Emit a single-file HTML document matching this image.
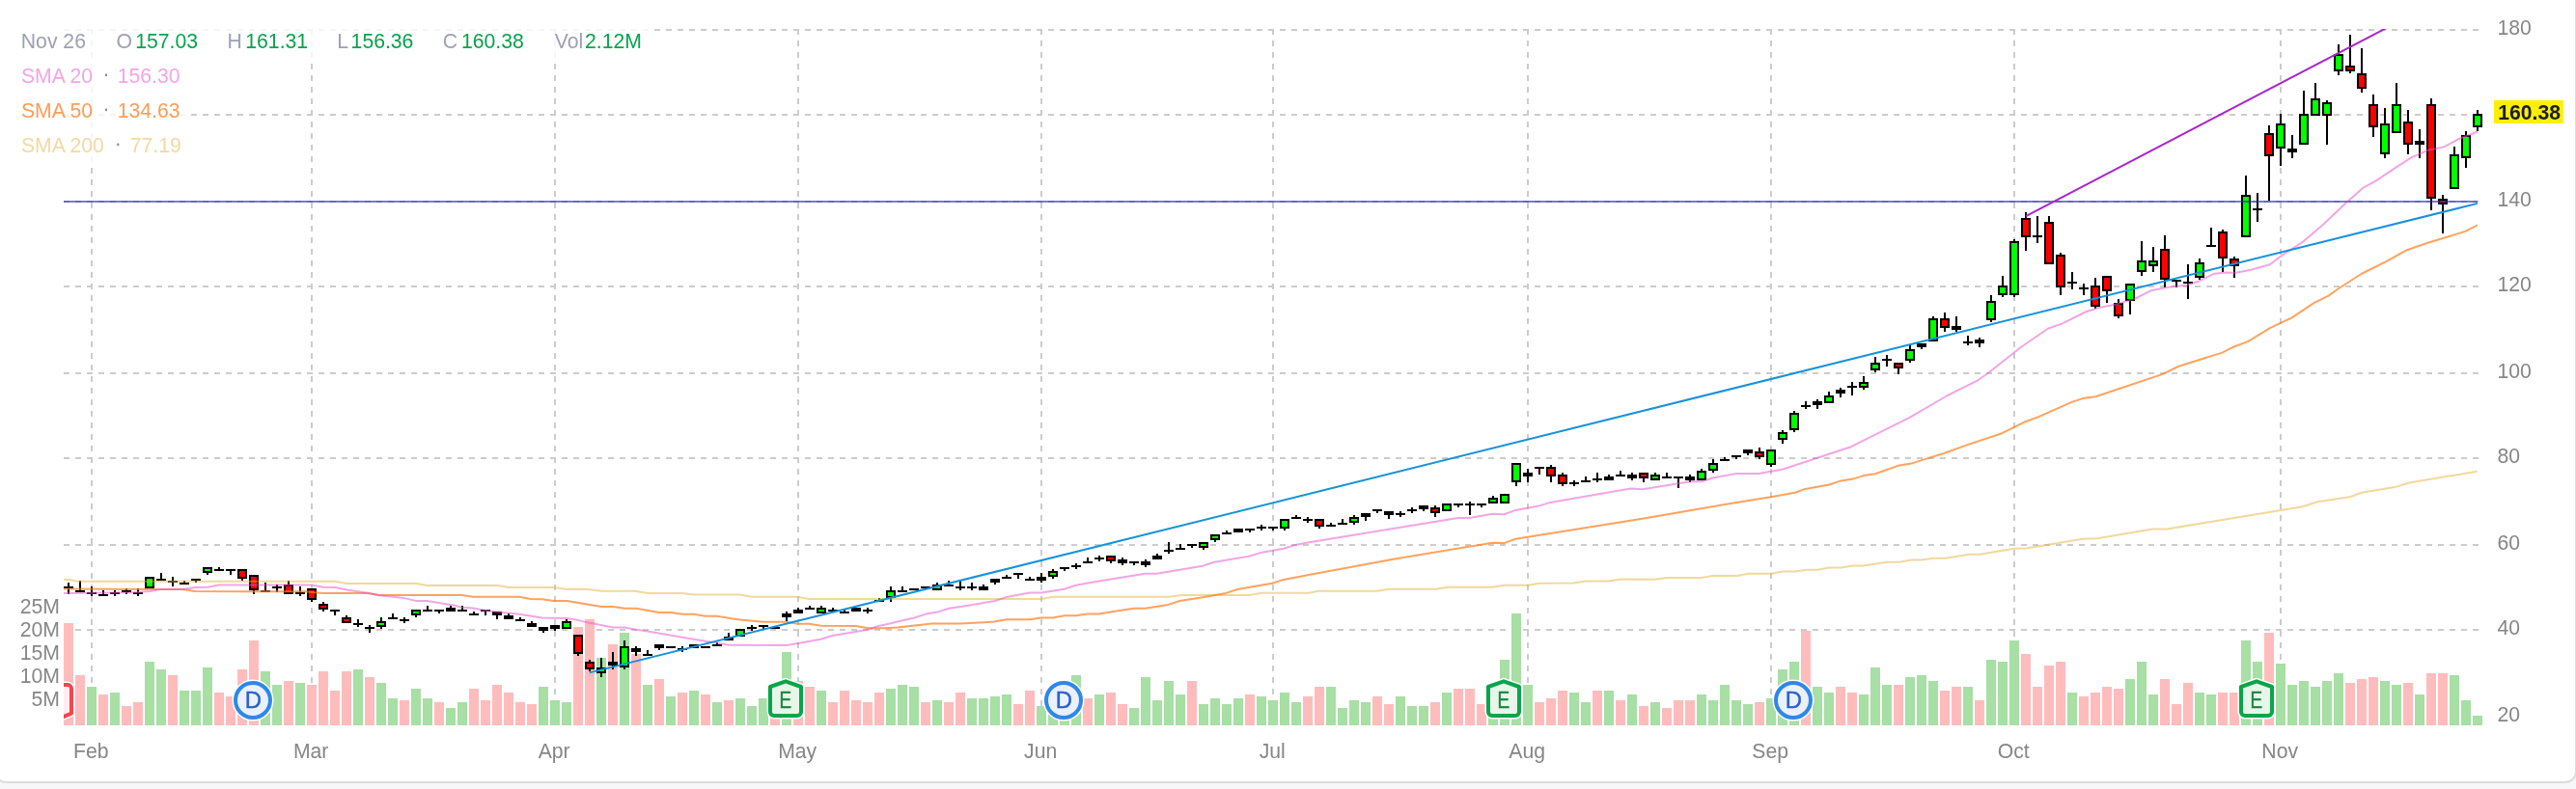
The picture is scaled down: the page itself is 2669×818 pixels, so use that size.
<!DOCTYPE html><html><head><meta charset="utf-8"><title>Chart</title><style>
html,body{margin:0;padding:0;background:#f7f7fa;}body{width:2669px;height:818px;overflow:hidden;position:relative;font-family:"Liberation Sans",Arial,sans-serif;}
#card{position:absolute;left:-6px;top:-20px;width:2672px;height:828px;background:#fff;border:2px solid #dbdbe3;border-radius:12px;}
svg{position:absolute;left:0;top:0;will-change:transform;}
svg text{font-family:"Liberation Sans",Arial,sans-serif;}
.ax{font-size:21.2px;fill:#868686;}
.lg{font-size:21.2px;}
</style></head><body><div id="card"></div>
<svg width="2669" height="818" viewBox="0 0 2669 818">
<defs><clipPath id="plot"><rect x="66" y="30" width="2508" height="722"/></clipPath></defs>
<g stroke="#cccccc" stroke-width="2" stroke-dasharray="6 6" fill="none">
<path d="M66 31 H2568"/>
<path d="M66 119 H2568"/>
<path d="M66 209 H2568"/>
<path d="M66 297 H2568"/>
<path d="M66 387 H2568"/>
<path d="M66 475 H2568"/>
<path d="M66 565 H2568"/>
<path d="M66 653 H2568"/>
<path d="M95 30 V752"/>
<path d="M323 30 V752"/>
<path d="M575 30 V752"/>
<path d="M827 30 V752"/>
<path d="M1079 30 V752"/>
<path d="M1319 30 V752"/>
<path d="M1583 30 V752"/>
<path d="M1835 30 V752"/>
<path d="M2087 30 V752"/>
<path d="M2363 30 V752"/>
</g>
<g>
<rect x="66" y="646" width="10" height="106" fill="#ffbcbc"/>
<rect x="78" y="700" width="10" height="52" fill="#ffbcbc"/>
<rect x="90" y="712" width="10" height="40" fill="#a7dfa5"/>
<rect x="102" y="720" width="10" height="32" fill="#ffbcbc"/>
<rect x="114" y="718" width="10" height="34" fill="#a7dfa5"/>
<rect x="126" y="732" width="10" height="20" fill="#ffbcbc"/>
<rect x="138" y="728" width="10" height="24" fill="#ffbcbc"/>
<rect x="150" y="686" width="10" height="66" fill="#a7dfa5"/>
<rect x="162" y="694" width="10" height="58" fill="#a7dfa5"/>
<rect x="174" y="700" width="10" height="52" fill="#ffbcbc"/>
<rect x="186" y="716" width="10" height="36" fill="#a7dfa5"/>
<rect x="198" y="716" width="10" height="36" fill="#a7dfa5"/>
<rect x="210" y="692" width="10" height="60" fill="#a7dfa5"/>
<rect x="222" y="718" width="10" height="34" fill="#ffbcbc"/>
<rect x="234" y="722" width="10" height="30" fill="#ffbcbc"/>
<rect x="246" y="694" width="10" height="58" fill="#ffbcbc"/>
<rect x="258" y="664" width="10" height="88" fill="#ffbcbc"/>
<rect x="270" y="696" width="10" height="56" fill="#a7dfa5"/>
<rect x="282" y="710" width="10" height="42" fill="#a7dfa5"/>
<rect x="294" y="706" width="10" height="46" fill="#ffbcbc"/>
<rect x="306" y="708" width="10" height="44" fill="#a7dfa5"/>
<rect x="318" y="710" width="10" height="42" fill="#ffbcbc"/>
<rect x="330" y="696" width="10" height="56" fill="#ffbcbc"/>
<rect x="342" y="716" width="10" height="36" fill="#ffbcbc"/>
<rect x="354" y="696" width="10" height="56" fill="#ffbcbc"/>
<rect x="366" y="694" width="10" height="58" fill="#a7dfa5"/>
<rect x="378" y="702" width="10" height="50" fill="#ffbcbc"/>
<rect x="390" y="708" width="10" height="44" fill="#a7dfa5"/>
<rect x="402" y="724" width="10" height="28" fill="#a7dfa5"/>
<rect x="414" y="726" width="10" height="26" fill="#ffbcbc"/>
<rect x="426" y="714" width="10" height="38" fill="#a7dfa5"/>
<rect x="438" y="724" width="10" height="28" fill="#a7dfa5"/>
<rect x="450" y="728" width="10" height="24" fill="#ffbcbc"/>
<rect x="462" y="734" width="10" height="18" fill="#a7dfa5"/>
<rect x="474" y="728" width="10" height="24" fill="#a7dfa5"/>
<rect x="486" y="714" width="10" height="38" fill="#ffbcbc"/>
<rect x="498" y="726" width="10" height="26" fill="#ffbcbc"/>
<rect x="510" y="710" width="10" height="42" fill="#ffbcbc"/>
<rect x="522" y="718" width="10" height="34" fill="#ffbcbc"/>
<rect x="534" y="728" width="10" height="24" fill="#ffbcbc"/>
<rect x="546" y="730" width="10" height="22" fill="#ffbcbc"/>
<rect x="558" y="712" width="10" height="40" fill="#a7dfa5"/>
<rect x="570" y="726" width="10" height="26" fill="#a7dfa5"/>
<rect x="582" y="728" width="10" height="24" fill="#a7dfa5"/>
<rect x="594" y="650" width="10" height="102" fill="#ffbcbc"/>
<rect x="606" y="642" width="10" height="110" fill="#ffbcbc"/>
<rect x="618" y="682" width="10" height="70" fill="#a7dfa5"/>
<rect x="630" y="668" width="10" height="84" fill="#ffbcbc"/>
<rect x="642" y="656" width="10" height="96" fill="#a7dfa5"/>
<rect x="654" y="678" width="10" height="74" fill="#ffbcbc"/>
<rect x="666" y="710" width="10" height="42" fill="#a7dfa5"/>
<rect x="678" y="704" width="10" height="48" fill="#ffbcbc"/>
<rect x="690" y="722" width="10" height="30" fill="#a7dfa5"/>
<rect x="702" y="718" width="10" height="34" fill="#ffbcbc"/>
<rect x="714" y="716" width="10" height="36" fill="#a7dfa5"/>
<rect x="726" y="720" width="10" height="32" fill="#ffbcbc"/>
<rect x="738" y="728" width="10" height="24" fill="#a7dfa5"/>
<rect x="750" y="726" width="10" height="26" fill="#ffbcbc"/>
<rect x="762" y="724" width="10" height="28" fill="#a7dfa5"/>
<rect x="774" y="732" width="10" height="20" fill="#a7dfa5"/>
<rect x="786" y="724" width="10" height="28" fill="#a7dfa5"/>
<rect x="798" y="728" width="10" height="24" fill="#ffbcbc"/>
<rect x="810" y="676" width="10" height="76" fill="#a7dfa5"/>
<rect x="822" y="706" width="10" height="46" fill="#ffbcbc"/>
<rect x="834" y="712" width="10" height="40" fill="#ffbcbc"/>
<rect x="846" y="716" width="10" height="36" fill="#a7dfa5"/>
<rect x="858" y="728" width="10" height="24" fill="#ffbcbc"/>
<rect x="870" y="716" width="10" height="36" fill="#ffbcbc"/>
<rect x="882" y="726" width="10" height="26" fill="#ffbcbc"/>
<rect x="894" y="728" width="10" height="24" fill="#ffbcbc"/>
<rect x="906" y="718" width="10" height="34" fill="#ffbcbc"/>
<rect x="918" y="714" width="10" height="38" fill="#a7dfa5"/>
<rect x="930" y="710" width="10" height="42" fill="#a7dfa5"/>
<rect x="942" y="712" width="10" height="40" fill="#a7dfa5"/>
<rect x="954" y="728" width="10" height="24" fill="#ffbcbc"/>
<rect x="966" y="726" width="10" height="26" fill="#a7dfa5"/>
<rect x="978" y="728" width="10" height="24" fill="#ffbcbc"/>
<rect x="990" y="718" width="10" height="34" fill="#ffbcbc"/>
<rect x="1002" y="724" width="10" height="28" fill="#a7dfa5"/>
<rect x="1014" y="724" width="10" height="28" fill="#a7dfa5"/>
<rect x="1026" y="722" width="10" height="30" fill="#a7dfa5"/>
<rect x="1038" y="720" width="10" height="32" fill="#a7dfa5"/>
<rect x="1050" y="730" width="10" height="22" fill="#ffbcbc"/>
<rect x="1062" y="716" width="10" height="36" fill="#ffbcbc"/>
<rect x="1074" y="732" width="10" height="20" fill="#a7dfa5"/>
<rect x="1086" y="724" width="10" height="28" fill="#a7dfa5"/>
<rect x="1098" y="722" width="10" height="30" fill="#a7dfa5"/>
<rect x="1110" y="700" width="10" height="52" fill="#a7dfa5"/>
<rect x="1122" y="724" width="10" height="28" fill="#ffbcbc"/>
<rect x="1134" y="720" width="10" height="32" fill="#a7dfa5"/>
<rect x="1146" y="718" width="10" height="34" fill="#ffbcbc"/>
<rect x="1158" y="730" width="10" height="22" fill="#ffbcbc"/>
<rect x="1170" y="734" width="10" height="18" fill="#a7dfa5"/>
<rect x="1182" y="702" width="10" height="50" fill="#a7dfa5"/>
<rect x="1194" y="726" width="10" height="26" fill="#a7dfa5"/>
<rect x="1206" y="706" width="10" height="46" fill="#a7dfa5"/>
<rect x="1218" y="720" width="10" height="32" fill="#a7dfa5"/>
<rect x="1230" y="706" width="10" height="46" fill="#ffbcbc"/>
<rect x="1242" y="730" width="10" height="22" fill="#a7dfa5"/>
<rect x="1254" y="724" width="10" height="28" fill="#a7dfa5"/>
<rect x="1266" y="730" width="10" height="22" fill="#a7dfa5"/>
<rect x="1278" y="724" width="10" height="28" fill="#a7dfa5"/>
<rect x="1290" y="720" width="10" height="32" fill="#ffbcbc"/>
<rect x="1302" y="722" width="10" height="30" fill="#a7dfa5"/>
<rect x="1314" y="726" width="10" height="26" fill="#a7dfa5"/>
<rect x="1326" y="718" width="10" height="34" fill="#a7dfa5"/>
<rect x="1338" y="728" width="10" height="24" fill="#a7dfa5"/>
<rect x="1350" y="722" width="10" height="30" fill="#ffbcbc"/>
<rect x="1362" y="712" width="10" height="40" fill="#ffbcbc"/>
<rect x="1374" y="712" width="10" height="40" fill="#a7dfa5"/>
<rect x="1386" y="734" width="10" height="18" fill="#a7dfa5"/>
<rect x="1398" y="726" width="10" height="26" fill="#a7dfa5"/>
<rect x="1410" y="728" width="10" height="24" fill="#a7dfa5"/>
<rect x="1422" y="722" width="10" height="30" fill="#ffbcbc"/>
<rect x="1434" y="730" width="10" height="22" fill="#ffbcbc"/>
<rect x="1446" y="722" width="10" height="30" fill="#a7dfa5"/>
<rect x="1458" y="732" width="10" height="20" fill="#a7dfa5"/>
<rect x="1470" y="732" width="10" height="20" fill="#a7dfa5"/>
<rect x="1482" y="728" width="10" height="24" fill="#ffbcbc"/>
<rect x="1494" y="718" width="10" height="34" fill="#a7dfa5"/>
<rect x="1506" y="714" width="10" height="38" fill="#ffbcbc"/>
<rect x="1518" y="714" width="10" height="38" fill="#ffbcbc"/>
<rect x="1530" y="730" width="10" height="22" fill="#ffbcbc"/>
<rect x="1542" y="728" width="10" height="24" fill="#a7dfa5"/>
<rect x="1554" y="684" width="10" height="68" fill="#a7dfa5"/>
<rect x="1566" y="636" width="10" height="116" fill="#a7dfa5"/>
<rect x="1578" y="710" width="10" height="42" fill="#a7dfa5"/>
<rect x="1590" y="728" width="10" height="24" fill="#ffbcbc"/>
<rect x="1602" y="724" width="10" height="28" fill="#ffbcbc"/>
<rect x="1614" y="716" width="10" height="36" fill="#ffbcbc"/>
<rect x="1626" y="718" width="10" height="34" fill="#a7dfa5"/>
<rect x="1638" y="728" width="10" height="24" fill="#a7dfa5"/>
<rect x="1650" y="716" width="10" height="36" fill="#ffbcbc"/>
<rect x="1662" y="716" width="10" height="36" fill="#a7dfa5"/>
<rect x="1674" y="726" width="10" height="26" fill="#ffbcbc"/>
<rect x="1686" y="720" width="10" height="32" fill="#a7dfa5"/>
<rect x="1698" y="732" width="10" height="20" fill="#ffbcbc"/>
<rect x="1710" y="728" width="10" height="24" fill="#a7dfa5"/>
<rect x="1722" y="734" width="10" height="18" fill="#ffbcbc"/>
<rect x="1734" y="726" width="10" height="26" fill="#ffbcbc"/>
<rect x="1746" y="726" width="10" height="26" fill="#ffbcbc"/>
<rect x="1758" y="720" width="10" height="32" fill="#a7dfa5"/>
<rect x="1770" y="726" width="10" height="26" fill="#a7dfa5"/>
<rect x="1782" y="710" width="10" height="42" fill="#a7dfa5"/>
<rect x="1794" y="726" width="10" height="26" fill="#a7dfa5"/>
<rect x="1806" y="730" width="10" height="22" fill="#a7dfa5"/>
<rect x="1818" y="728" width="10" height="24" fill="#ffbcbc"/>
<rect x="1830" y="724" width="10" height="28" fill="#a7dfa5"/>
<rect x="1842" y="694" width="10" height="58" fill="#a7dfa5"/>
<rect x="1854" y="686" width="10" height="66" fill="#a7dfa5"/>
<rect x="1866" y="654" width="10" height="98" fill="#ffbcbc"/>
<rect x="1878" y="712" width="10" height="40" fill="#a7dfa5"/>
<rect x="1890" y="718" width="10" height="34" fill="#a7dfa5"/>
<rect x="1902" y="712" width="10" height="40" fill="#ffbcbc"/>
<rect x="1914" y="718" width="10" height="34" fill="#ffbcbc"/>
<rect x="1926" y="720" width="10" height="32" fill="#a7dfa5"/>
<rect x="1938" y="692" width="10" height="60" fill="#a7dfa5"/>
<rect x="1950" y="710" width="10" height="42" fill="#a7dfa5"/>
<rect x="1962" y="710" width="10" height="42" fill="#ffbcbc"/>
<rect x="1974" y="702" width="10" height="50" fill="#a7dfa5"/>
<rect x="1986" y="700" width="10" height="52" fill="#a7dfa5"/>
<rect x="1998" y="706" width="10" height="46" fill="#a7dfa5"/>
<rect x="2010" y="716" width="10" height="36" fill="#ffbcbc"/>
<rect x="2022" y="712" width="10" height="40" fill="#ffbcbc"/>
<rect x="2034" y="712" width="10" height="40" fill="#a7dfa5"/>
<rect x="2046" y="726" width="10" height="26" fill="#ffbcbc"/>
<rect x="2058" y="684" width="10" height="68" fill="#a7dfa5"/>
<rect x="2070" y="686" width="10" height="66" fill="#a7dfa5"/>
<rect x="2082" y="664" width="10" height="88" fill="#a7dfa5"/>
<rect x="2094" y="678" width="10" height="74" fill="#ffbcbc"/>
<rect x="2106" y="712" width="10" height="40" fill="#ffbcbc"/>
<rect x="2118" y="690" width="10" height="62" fill="#ffbcbc"/>
<rect x="2130" y="686" width="10" height="66" fill="#ffbcbc"/>
<rect x="2142" y="718" width="10" height="34" fill="#a7dfa5"/>
<rect x="2154" y="722" width="10" height="30" fill="#ffbcbc"/>
<rect x="2166" y="718" width="10" height="34" fill="#ffbcbc"/>
<rect x="2178" y="712" width="10" height="40" fill="#ffbcbc"/>
<rect x="2190" y="714" width="10" height="38" fill="#ffbcbc"/>
<rect x="2202" y="704" width="10" height="48" fill="#a7dfa5"/>
<rect x="2214" y="686" width="10" height="66" fill="#a7dfa5"/>
<rect x="2226" y="720" width="10" height="32" fill="#a7dfa5"/>
<rect x="2238" y="704" width="10" height="48" fill="#ffbcbc"/>
<rect x="2250" y="730" width="10" height="22" fill="#ffbcbc"/>
<rect x="2262" y="708" width="10" height="44" fill="#ffbcbc"/>
<rect x="2274" y="718" width="10" height="34" fill="#a7dfa5"/>
<rect x="2286" y="720" width="10" height="32" fill="#a7dfa5"/>
<rect x="2298" y="718" width="10" height="34" fill="#ffbcbc"/>
<rect x="2310" y="718" width="10" height="34" fill="#ffbcbc"/>
<rect x="2322" y="664" width="10" height="88" fill="#a7dfa5"/>
<rect x="2334" y="686" width="10" height="66" fill="#a7dfa5"/>
<rect x="2346" y="656" width="10" height="96" fill="#ffbcbc"/>
<rect x="2358" y="688" width="10" height="64" fill="#a7dfa5"/>
<rect x="2370" y="710" width="10" height="42" fill="#a7dfa5"/>
<rect x="2382" y="706" width="10" height="46" fill="#a7dfa5"/>
<rect x="2394" y="712" width="10" height="40" fill="#a7dfa5"/>
<rect x="2406" y="706" width="10" height="46" fill="#a7dfa5"/>
<rect x="2418" y="698" width="10" height="54" fill="#a7dfa5"/>
<rect x="2430" y="708" width="10" height="44" fill="#ffbcbc"/>
<rect x="2442" y="704" width="10" height="48" fill="#ffbcbc"/>
<rect x="2454" y="702" width="10" height="50" fill="#ffbcbc"/>
<rect x="2466" y="706" width="10" height="46" fill="#a7dfa5"/>
<rect x="2478" y="710" width="10" height="42" fill="#a7dfa5"/>
<rect x="2490" y="708" width="10" height="44" fill="#ffbcbc"/>
<rect x="2502" y="720" width="10" height="32" fill="#a7dfa5"/>
<rect x="2514" y="698" width="10" height="54" fill="#ffbcbc"/>
<rect x="2526" y="698" width="10" height="54" fill="#ffbcbc"/>
<rect x="2538" y="700" width="10" height="52" fill="#a7dfa5"/>
<rect x="2550" y="726" width="10" height="26" fill="#a7dfa5"/>
<rect x="2562" y="742" width="10" height="10" fill="#a7dfa5"/>
</g>
<g fill="#000" shape-rendering="crispEdges">
<rect x="70" y="604" width="2" height="12"/>
<rect x="66" y="608" width="10" height="2"/>
<rect x="82" y="602" width="2" height="12"/>
<rect x="78" y="612" width="10" height="2"/>
<rect x="94" y="608" width="2" height="10"/>
<rect x="90" y="614" width="10" height="2"/>
<rect x="106" y="612" width="2" height="6"/>
<rect x="102" y="616" width="10" height="2"/>
<rect x="118" y="612" width="2" height="6"/>
<rect x="114" y="614" width="10" height="2"/>
<rect x="130" y="610" width="2" height="6"/>
<rect x="126" y="612" width="10" height="2"/>
<rect x="142" y="610" width="2" height="8"/>
<rect x="138" y="614" width="10" height="2"/>
<rect x="150" y="598" width="10" height="12"/>
<rect x="166" y="594" width="2" height="8"/>
<rect x="162" y="600" width="10" height="2"/>
<rect x="178" y="598" width="2" height="10"/>
<rect x="174" y="602" width="10" height="2"/>
<rect x="190" y="602" width="2" height="4"/>
<rect x="186" y="604" width="10" height="2"/>
<rect x="202" y="600" width="2" height="4"/>
<rect x="198" y="600" width="10" height="2"/>
<rect x="214" y="588" width="2" height="8"/>
<rect x="210" y="588" width="10" height="6"/>
<rect x="226" y="588" width="2" height="4"/>
<rect x="222" y="590" width="10" height="2"/>
<rect x="238" y="590" width="2" height="6"/>
<rect x="234" y="590" width="10" height="2"/>
<rect x="250" y="590" width="2" height="12"/>
<rect x="246" y="590" width="10" height="10"/>
<rect x="262" y="596" width="2" height="20"/>
<rect x="258" y="596" width="10" height="16"/>
<rect x="274" y="604" width="2" height="10"/>
<rect x="270" y="612" width="10" height="2"/>
<rect x="286" y="606" width="2" height="8"/>
<rect x="282" y="608" width="10" height="2"/>
<rect x="298" y="602" width="2" height="14"/>
<rect x="294" y="606" width="10" height="10"/>
<rect x="310" y="608" width="2" height="10"/>
<rect x="306" y="614" width="10" height="2"/>
<rect x="322" y="610" width="2" height="14"/>
<rect x="318" y="610" width="10" height="12"/>
<rect x="334" y="624" width="2" height="10"/>
<rect x="330" y="626" width="10" height="6"/>
<rect x="346" y="632" width="2" height="6"/>
<rect x="342" y="632" width="10" height="2"/>
<rect x="358" y="638" width="2" height="8"/>
<rect x="354" y="640" width="10" height="6"/>
<rect x="370" y="642" width="2" height="8"/>
<rect x="366" y="646" width="10" height="2"/>
<rect x="382" y="648" width="2" height="8"/>
<rect x="378" y="650" width="10" height="2"/>
<rect x="394" y="640" width="2" height="12"/>
<rect x="390" y="644" width="10" height="6"/>
<rect x="406" y="636" width="2" height="6"/>
<rect x="402" y="640" width="10" height="2"/>
<rect x="418" y="640" width="2" height="6"/>
<rect x="414" y="642" width="10" height="2"/>
<rect x="430" y="632" width="2" height="8"/>
<rect x="426" y="632" width="10" height="6"/>
<rect x="442" y="628" width="2" height="6"/>
<rect x="438" y="632" width="10" height="2"/>
<rect x="454" y="632" width="2" height="4"/>
<rect x="450" y="632" width="10" height="2"/>
<rect x="466" y="628" width="2" height="6"/>
<rect x="462" y="630" width="10" height="4"/>
<rect x="478" y="628" width="2" height="6"/>
<rect x="474" y="632" width="10" height="2"/>
<rect x="490" y="634" width="2" height="4"/>
<rect x="486" y="636" width="10" height="2"/>
<rect x="502" y="632" width="2" height="6"/>
<rect x="498" y="632" width="10" height="2"/>
<rect x="514" y="634" width="2" height="8"/>
<rect x="510" y="634" width="10" height="4"/>
<rect x="526" y="636" width="2" height="6"/>
<rect x="522" y="638" width="10" height="4"/>
<rect x="538" y="640" width="2" height="4"/>
<rect x="534" y="642" width="10" height="2"/>
<rect x="550" y="644" width="2" height="6"/>
<rect x="546" y="646" width="10" height="4"/>
<rect x="562" y="650" width="2" height="6"/>
<rect x="558" y="650" width="10" height="4"/>
<rect x="574" y="648" width="2" height="6"/>
<rect x="570" y="648" width="10" height="4"/>
<rect x="586" y="642" width="2" height="10"/>
<rect x="582" y="644" width="10" height="8"/>
<rect x="598" y="658" width="2" height="22"/>
<rect x="594" y="658" width="10" height="20"/>
<rect x="610" y="684" width="2" height="12"/>
<rect x="606" y="686" width="10" height="8"/>
<rect x="622" y="682" width="2" height="20"/>
<rect x="618" y="692" width="10" height="6"/>
<rect x="634" y="676" width="2" height="18"/>
<rect x="630" y="686" width="10" height="4"/>
<rect x="646" y="664" width="2" height="30"/>
<rect x="642" y="670" width="10" height="22"/>
<rect x="658" y="670" width="2" height="10"/>
<rect x="654" y="672" width="10" height="4"/>
<rect x="670" y="674" width="2" height="6"/>
<rect x="666" y="678" width="10" height="2"/>
<rect x="682" y="668" width="2" height="6"/>
<rect x="678" y="668" width="10" height="4"/>
<rect x="690" y="670" width="10" height="2"/>
<rect x="706" y="670" width="2" height="6"/>
<rect x="702" y="672" width="10" height="2"/>
<rect x="714" y="668" width="10" height="4"/>
<rect x="726" y="670" width="10" height="2"/>
<rect x="742" y="666" width="2" height="4"/>
<rect x="738" y="668" width="10" height="2"/>
<rect x="754" y="656" width="2" height="8"/>
<rect x="750" y="660" width="10" height="4"/>
<rect x="762" y="652" width="10" height="8"/>
<rect x="778" y="648" width="2" height="6"/>
<rect x="774" y="650" width="10" height="2"/>
<rect x="790" y="648" width="2" height="4"/>
<rect x="786" y="648" width="10" height="2"/>
<rect x="798" y="650" width="10" height="2"/>
<rect x="814" y="634" width="2" height="10"/>
<rect x="810" y="636" width="10" height="4"/>
<rect x="826" y="630" width="2" height="6"/>
<rect x="822" y="632" width="10" height="4"/>
<rect x="838" y="628" width="2" height="4"/>
<rect x="834" y="630" width="10" height="2"/>
<rect x="850" y="628" width="2" height="8"/>
<rect x="846" y="630" width="10" height="6"/>
<rect x="862" y="630" width="2" height="4"/>
<rect x="858" y="632" width="10" height="2"/>
<rect x="874" y="632" width="2" height="4"/>
<rect x="870" y="634" width="10" height="2"/>
<rect x="882" y="630" width="10" height="4"/>
<rect x="898" y="630" width="2" height="6"/>
<rect x="894" y="632" width="10" height="2"/>
<rect x="910" y="620" width="2" height="4"/>
<rect x="906" y="622" width="10" height="2"/>
<rect x="922" y="608" width="2" height="16"/>
<rect x="918" y="612" width="10" height="8"/>
<rect x="934" y="608" width="2" height="6"/>
<rect x="930" y="612" width="10" height="2"/>
<rect x="942" y="610" width="10" height="2"/>
<rect x="954" y="608" width="10" height="2"/>
<rect x="970" y="604" width="2" height="8"/>
<rect x="966" y="606" width="10" height="6"/>
<rect x="982" y="602" width="2" height="6"/>
<rect x="978" y="606" width="10" height="2"/>
<rect x="994" y="602" width="2" height="10"/>
<rect x="990" y="608" width="10" height="2"/>
<rect x="1006" y="604" width="2" height="8"/>
<rect x="1002" y="608" width="10" height="2"/>
<rect x="1018" y="606" width="2" height="6"/>
<rect x="1014" y="608" width="10" height="4"/>
<rect x="1030" y="600" width="2" height="6"/>
<rect x="1026" y="600" width="10" height="4"/>
<rect x="1042" y="596" width="2" height="4"/>
<rect x="1038" y="598" width="10" height="2"/>
<rect x="1054" y="594" width="2" height="6"/>
<rect x="1050" y="594" width="10" height="2"/>
<rect x="1066" y="598" width="2" height="4"/>
<rect x="1062" y="600" width="10" height="2"/>
<rect x="1078" y="594" width="2" height="10"/>
<rect x="1074" y="598" width="10" height="4"/>
<rect x="1090" y="590" width="2" height="10"/>
<rect x="1086" y="592" width="10" height="6"/>
<rect x="1102" y="588" width="2" height="4"/>
<rect x="1098" y="588" width="10" height="2"/>
<rect x="1114" y="584" width="2" height="6"/>
<rect x="1110" y="586" width="10" height="2"/>
<rect x="1126" y="578" width="2" height="6"/>
<rect x="1122" y="582" width="10" height="2"/>
<rect x="1138" y="576" width="2" height="6"/>
<rect x="1134" y="578" width="10" height="2"/>
<rect x="1150" y="576" width="2" height="8"/>
<rect x="1146" y="576" width="10" height="6"/>
<rect x="1162" y="578" width="2" height="8"/>
<rect x="1158" y="580" width="10" height="4"/>
<rect x="1174" y="582" width="2" height="4"/>
<rect x="1170" y="582" width="10" height="2"/>
<rect x="1186" y="580" width="2" height="8"/>
<rect x="1182" y="582" width="10" height="4"/>
<rect x="1198" y="574" width="2" height="6"/>
<rect x="1194" y="576" width="10" height="4"/>
<rect x="1210" y="562" width="2" height="12"/>
<rect x="1206" y="570" width="10" height="2"/>
<rect x="1222" y="564" width="2" height="6"/>
<rect x="1218" y="568" width="10" height="2"/>
<rect x="1234" y="564" width="2" height="4"/>
<rect x="1230" y="564" width="10" height="2"/>
<rect x="1246" y="562" width="2" height="8"/>
<rect x="1242" y="562" width="10" height="6"/>
<rect x="1258" y="554" width="2" height="8"/>
<rect x="1254" y="554" width="10" height="6"/>
<rect x="1270" y="550" width="2" height="4"/>
<rect x="1266" y="552" width="10" height="2"/>
<rect x="1278" y="548" width="10" height="4"/>
<rect x="1294" y="548" width="2" height="4"/>
<rect x="1290" y="548" width="10" height="2"/>
<rect x="1306" y="544" width="2" height="6"/>
<rect x="1302" y="546" width="10" height="2"/>
<rect x="1318" y="546" width="2" height="4"/>
<rect x="1314" y="546" width="10" height="2"/>
<rect x="1330" y="538" width="2" height="12"/>
<rect x="1326" y="538" width="10" height="10"/>
<rect x="1342" y="534" width="2" height="4"/>
<rect x="1338" y="536" width="10" height="2"/>
<rect x="1354" y="536" width="2" height="6"/>
<rect x="1350" y="538" width="10" height="2"/>
<rect x="1366" y="538" width="2" height="10"/>
<rect x="1362" y="538" width="10" height="8"/>
<rect x="1378" y="542" width="2" height="4"/>
<rect x="1374" y="544" width="10" height="2"/>
<rect x="1390" y="538" width="2" height="6"/>
<rect x="1386" y="542" width="10" height="2"/>
<rect x="1402" y="534" width="2" height="10"/>
<rect x="1398" y="536" width="10" height="6"/>
<rect x="1414" y="532" width="2" height="8"/>
<rect x="1410" y="532" width="10" height="4"/>
<rect x="1426" y="528" width="2" height="4"/>
<rect x="1422" y="528" width="10" height="2"/>
<rect x="1438" y="530" width="2" height="8"/>
<rect x="1434" y="530" width="10" height="4"/>
<rect x="1450" y="530" width="2" height="6"/>
<rect x="1446" y="532" width="10" height="2"/>
<rect x="1462" y="526" width="2" height="6"/>
<rect x="1458" y="528" width="10" height="2"/>
<rect x="1474" y="524" width="2" height="6"/>
<rect x="1470" y="524" width="10" height="4"/>
<rect x="1486" y="524" width="2" height="12"/>
<rect x="1482" y="526" width="10" height="6"/>
<rect x="1494" y="522" width="10" height="8"/>
<rect x="1510" y="522" width="2" height="4"/>
<rect x="1506" y="522" width="10" height="2"/>
<rect x="1522" y="520" width="2" height="14"/>
<rect x="1518" y="522" width="10" height="2"/>
<rect x="1534" y="522" width="2" height="4"/>
<rect x="1530" y="522" width="10" height="2"/>
<rect x="1546" y="514" width="2" height="8"/>
<rect x="1542" y="516" width="10" height="6"/>
<rect x="1554" y="512" width="10" height="10"/>
<rect x="1570" y="480" width="2" height="24"/>
<rect x="1566" y="480" width="10" height="20"/>
<rect x="1582" y="486" width="2" height="14"/>
<rect x="1578" y="490" width="10" height="4"/>
<rect x="1594" y="484" width="2" height="8"/>
<rect x="1590" y="484" width="10" height="2"/>
<rect x="1606" y="482" width="2" height="18"/>
<rect x="1602" y="484" width="10" height="10"/>
<rect x="1618" y="490" width="2" height="14"/>
<rect x="1614" y="492" width="10" height="10"/>
<rect x="1630" y="498" width="2" height="6"/>
<rect x="1626" y="500" width="10" height="2"/>
<rect x="1642" y="494" width="2" height="6"/>
<rect x="1638" y="498" width="10" height="2"/>
<rect x="1654" y="490" width="2" height="10"/>
<rect x="1650" y="496" width="10" height="2"/>
<rect x="1666" y="492" width="2" height="6"/>
<rect x="1662" y="494" width="10" height="4"/>
<rect x="1678" y="488" width="2" height="6"/>
<rect x="1674" y="492" width="10" height="2"/>
<rect x="1690" y="490" width="2" height="8"/>
<rect x="1686" y="492" width="10" height="4"/>
<rect x="1702" y="490" width="2" height="10"/>
<rect x="1698" y="490" width="10" height="6"/>
<rect x="1714" y="490" width="2" height="8"/>
<rect x="1710" y="492" width="10" height="6"/>
<rect x="1726" y="490" width="2" height="6"/>
<rect x="1722" y="494" width="10" height="2"/>
<rect x="1738" y="494" width="2" height="12"/>
<rect x="1734" y="494" width="10" height="2"/>
<rect x="1750" y="492" width="2" height="8"/>
<rect x="1746" y="494" width="10" height="4"/>
<rect x="1762" y="486" width="2" height="12"/>
<rect x="1758" y="488" width="10" height="10"/>
<rect x="1774" y="476" width="2" height="14"/>
<rect x="1770" y="480" width="10" height="8"/>
<rect x="1786" y="474" width="2" height="4"/>
<rect x="1782" y="476" width="10" height="2"/>
<rect x="1798" y="472" width="2" height="4"/>
<rect x="1794" y="472" width="10" height="2"/>
<rect x="1810" y="466" width="2" height="6"/>
<rect x="1806" y="466" width="10" height="4"/>
<rect x="1822" y="464" width="2" height="12"/>
<rect x="1818" y="468" width="10" height="6"/>
<rect x="1834" y="466" width="2" height="18"/>
<rect x="1830" y="466" width="10" height="16"/>
<rect x="1846" y="446" width="2" height="14"/>
<rect x="1842" y="448" width="10" height="8"/>
<rect x="1858" y="426" width="2" height="22"/>
<rect x="1854" y="428" width="10" height="18"/>
<rect x="1870" y="416" width="2" height="8"/>
<rect x="1866" y="420" width="10" height="2"/>
<rect x="1882" y="414" width="2" height="10"/>
<rect x="1878" y="416" width="10" height="4"/>
<rect x="1894" y="406" width="2" height="12"/>
<rect x="1890" y="410" width="10" height="8"/>
<rect x="1906" y="402" width="2" height="10"/>
<rect x="1902" y="404" width="10" height="4"/>
<rect x="1918" y="396" width="2" height="14"/>
<rect x="1914" y="400" width="10" height="2"/>
<rect x="1930" y="390" width="2" height="14"/>
<rect x="1926" y="396" width="10" height="6"/>
<rect x="1942" y="370" width="2" height="16"/>
<rect x="1938" y="376" width="10" height="8"/>
<rect x="1954" y="368" width="2" height="12"/>
<rect x="1950" y="372" width="10" height="2"/>
<rect x="1966" y="376" width="2" height="12"/>
<rect x="1962" y="376" width="10" height="6"/>
<rect x="1978" y="358" width="2" height="18"/>
<rect x="1974" y="362" width="10" height="12"/>
<rect x="1990" y="356" width="2" height="6"/>
<rect x="1986" y="356" width="10" height="4"/>
<rect x="2002" y="328" width="2" height="26"/>
<rect x="1998" y="330" width="10" height="24"/>
<rect x="2014" y="324" width="2" height="20"/>
<rect x="2010" y="330" width="10" height="10"/>
<rect x="2026" y="328" width="2" height="16"/>
<rect x="2022" y="338" width="10" height="4"/>
<rect x="2038" y="348" width="2" height="10"/>
<rect x="2034" y="354" width="10" height="2"/>
<rect x="2050" y="350" width="2" height="10"/>
<rect x="2046" y="352" width="10" height="4"/>
<rect x="2062" y="306" width="2" height="28"/>
<rect x="2058" y="312" width="10" height="20"/>
<rect x="2074" y="286" width="2" height="22"/>
<rect x="2070" y="296" width="10" height="10"/>
<rect x="2086" y="248" width="2" height="60"/>
<rect x="2082" y="250" width="10" height="56"/>
<rect x="2098" y="220" width="2" height="40"/>
<rect x="2094" y="226" width="10" height="20"/>
<rect x="2110" y="224" width="2" height="28"/>
<rect x="2106" y="244" width="10" height="2"/>
<rect x="2122" y="224" width="2" height="50"/>
<rect x="2118" y="230" width="10" height="44"/>
<rect x="2134" y="262" width="2" height="44"/>
<rect x="2130" y="264" width="10" height="34"/>
<rect x="2146" y="282" width="2" height="18"/>
<rect x="2142" y="292" width="10" height="2"/>
<rect x="2158" y="294" width="2" height="12"/>
<rect x="2154" y="298" width="10" height="2"/>
<rect x="2170" y="288" width="2" height="32"/>
<rect x="2166" y="296" width="10" height="22"/>
<rect x="2182" y="286" width="2" height="28"/>
<rect x="2178" y="286" width="10" height="16"/>
<rect x="2194" y="310" width="2" height="20"/>
<rect x="2190" y="314" width="10" height="14"/>
<rect x="2206" y="294" width="2" height="32"/>
<rect x="2202" y="294" width="10" height="18"/>
<rect x="2218" y="250" width="2" height="36"/>
<rect x="2214" y="270" width="10" height="12"/>
<rect x="2230" y="256" width="2" height="26"/>
<rect x="2226" y="270" width="10" height="6"/>
<rect x="2242" y="244" width="2" height="54"/>
<rect x="2238" y="258" width="10" height="32"/>
<rect x="2254" y="290" width="2" height="8"/>
<rect x="2250" y="290" width="10" height="2"/>
<rect x="2266" y="274" width="2" height="36"/>
<rect x="2262" y="292" width="10" height="2"/>
<rect x="2278" y="268" width="2" height="22"/>
<rect x="2274" y="272" width="10" height="16"/>
<rect x="2290" y="236" width="2" height="20"/>
<rect x="2286" y="254" width="10" height="2"/>
<rect x="2302" y="238" width="2" height="44"/>
<rect x="2298" y="240" width="10" height="28"/>
<rect x="2314" y="266" width="2" height="22"/>
<rect x="2310" y="268" width="10" height="8"/>
<rect x="2326" y="182" width="2" height="64"/>
<rect x="2322" y="202" width="10" height="44"/>
<rect x="2338" y="200" width="2" height="30"/>
<rect x="2334" y="216" width="10" height="2"/>
<rect x="2350" y="130" width="2" height="78"/>
<rect x="2346" y="138" width="10" height="24"/>
<rect x="2362" y="118" width="2" height="54"/>
<rect x="2358" y="128" width="10" height="26"/>
<rect x="2374" y="140" width="2" height="24"/>
<rect x="2370" y="154" width="10" height="4"/>
<rect x="2386" y="94" width="2" height="56"/>
<rect x="2382" y="118" width="10" height="32"/>
<rect x="2398" y="86" width="2" height="34"/>
<rect x="2394" y="102" width="10" height="18"/>
<rect x="2410" y="104" width="2" height="46"/>
<rect x="2406" y="106" width="10" height="14"/>
<rect x="2422" y="46" width="2" height="32"/>
<rect x="2418" y="56" width="10" height="18"/>
<rect x="2434" y="36" width="2" height="40"/>
<rect x="2430" y="68" width="10" height="6"/>
<rect x="2446" y="50" width="2" height="46"/>
<rect x="2442" y="76" width="10" height="16"/>
<rect x="2458" y="98" width="2" height="44"/>
<rect x="2454" y="108" width="10" height="24"/>
<rect x="2470" y="112" width="2" height="52"/>
<rect x="2466" y="128" width="10" height="32"/>
<rect x="2482" y="86" width="2" height="52"/>
<rect x="2478" y="108" width="10" height="30"/>
<rect x="2494" y="114" width="2" height="46"/>
<rect x="2490" y="126" width="10" height="24"/>
<rect x="2506" y="134" width="2" height="30"/>
<rect x="2502" y="146" width="10" height="4"/>
<rect x="2518" y="102" width="2" height="116"/>
<rect x="2514" y="108" width="10" height="98"/>
<rect x="2530" y="202" width="2" height="40"/>
<rect x="2526" y="206" width="10" height="6"/>
<rect x="2542" y="152" width="2" height="44"/>
<rect x="2538" y="160" width="10" height="36"/>
<rect x="2554" y="136" width="2" height="38"/>
<rect x="2550" y="140" width="10" height="24"/>
<rect x="2566" y="114" width="2" height="22"/>
<rect x="2562" y="118" width="10" height="14"/>
<rect x="152" y="600" width="6" height="8" fill="#00ff00"/>
<rect x="212" y="590" width="6" height="2" fill="#00ff00"/>
<rect x="248" y="592" width="6" height="6" fill="#ff0000"/>
<rect x="260" y="598" width="6" height="12" fill="#ff0000"/>
<rect x="296" y="608" width="6" height="6" fill="#ff0000"/>
<rect x="320" y="612" width="6" height="8" fill="#ff0000"/>
<rect x="332" y="628" width="6" height="2" fill="#ff0000"/>
<rect x="356" y="642" width="6" height="2" fill="#ff0000"/>
<rect x="392" y="646" width="6" height="2" fill="#00ff00"/>
<rect x="428" y="634" width="6" height="2" fill="#00ff00"/>
<rect x="584" y="646" width="6" height="4" fill="#00ff00"/>
<rect x="596" y="660" width="6" height="16" fill="#ff0000"/>
<rect x="608" y="688" width="6" height="4" fill="#ff0000"/>
<rect x="620" y="694" width="6" height="2" fill="#00ff00"/>
<rect x="644" y="672" width="6" height="18" fill="#00ff00"/>
<rect x="764" y="654" width="6" height="4" fill="#00ff00"/>
<rect x="848" y="632" width="6" height="2" fill="#00ff00"/>
<rect x="920" y="614" width="6" height="4" fill="#00ff00"/>
<rect x="968" y="608" width="6" height="2" fill="#00ff00"/>
<rect x="1088" y="594" width="6" height="2" fill="#00ff00"/>
<rect x="1148" y="578" width="6" height="2" fill="#ff0000"/>
<rect x="1244" y="564" width="6" height="2" fill="#00ff00"/>
<rect x="1256" y="556" width="6" height="2" fill="#00ff00"/>
<rect x="1328" y="540" width="6" height="6" fill="#00ff00"/>
<rect x="1364" y="540" width="6" height="4" fill="#ff0000"/>
<rect x="1400" y="538" width="6" height="2" fill="#00ff00"/>
<rect x="1484" y="528" width="6" height="2" fill="#ff0000"/>
<rect x="1496" y="524" width="6" height="4" fill="#00ff00"/>
<rect x="1544" y="518" width="6" height="2" fill="#00ff00"/>
<rect x="1556" y="514" width="6" height="6" fill="#00ff00"/>
<rect x="1568" y="482" width="6" height="16" fill="#00ff00"/>
<rect x="1604" y="486" width="6" height="6" fill="#ff0000"/>
<rect x="1616" y="494" width="6" height="6" fill="#ff0000"/>
<rect x="1700" y="492" width="6" height="2" fill="#ff0000"/>
<rect x="1712" y="494" width="6" height="2" fill="#00ff00"/>
<rect x="1760" y="490" width="6" height="6" fill="#00ff00"/>
<rect x="1772" y="482" width="6" height="4" fill="#00ff00"/>
<rect x="1820" y="470" width="6" height="2" fill="#ff0000"/>
<rect x="1832" y="468" width="6" height="12" fill="#00ff00"/>
<rect x="1844" y="450" width="6" height="4" fill="#00ff00"/>
<rect x="1856" y="430" width="6" height="14" fill="#00ff00"/>
<rect x="1892" y="412" width="6" height="4" fill="#00ff00"/>
<rect x="1928" y="398" width="6" height="2" fill="#00ff00"/>
<rect x="1940" y="378" width="6" height="4" fill="#00ff00"/>
<rect x="1964" y="378" width="6" height="2" fill="#ff0000"/>
<rect x="1976" y="364" width="6" height="8" fill="#00ff00"/>
<rect x="2000" y="332" width="6" height="20" fill="#00ff00"/>
<rect x="2012" y="332" width="6" height="6" fill="#ff0000"/>
<rect x="2060" y="314" width="6" height="16" fill="#00ff00"/>
<rect x="2072" y="298" width="6" height="6" fill="#00ff00"/>
<rect x="2084" y="252" width="6" height="52" fill="#00ff00"/>
<rect x="2096" y="228" width="6" height="16" fill="#ff0000"/>
<rect x="2120" y="232" width="6" height="40" fill="#ff0000"/>
<rect x="2132" y="266" width="6" height="30" fill="#ff0000"/>
<rect x="2168" y="298" width="6" height="18" fill="#ff0000"/>
<rect x="2180" y="288" width="6" height="12" fill="#ff0000"/>
<rect x="2192" y="316" width="6" height="10" fill="#ff0000"/>
<rect x="2204" y="296" width="6" height="14" fill="#00ff00"/>
<rect x="2216" y="272" width="6" height="8" fill="#00ff00"/>
<rect x="2228" y="272" width="6" height="2" fill="#00ff00"/>
<rect x="2240" y="260" width="6" height="28" fill="#ff0000"/>
<rect x="2276" y="274" width="6" height="12" fill="#00ff00"/>
<rect x="2300" y="242" width="6" height="24" fill="#ff0000"/>
<rect x="2312" y="270" width="6" height="4" fill="#ff0000"/>
<rect x="2324" y="204" width="6" height="40" fill="#00ff00"/>
<rect x="2348" y="140" width="6" height="20" fill="#ff0000"/>
<rect x="2360" y="130" width="6" height="22" fill="#00ff00"/>
<rect x="2384" y="120" width="6" height="28" fill="#00ff00"/>
<rect x="2396" y="104" width="6" height="14" fill="#00ff00"/>
<rect x="2408" y="108" width="6" height="10" fill="#00ff00"/>
<rect x="2420" y="58" width="6" height="14" fill="#00ff00"/>
<rect x="2432" y="70" width="6" height="2" fill="#ff0000"/>
<rect x="2444" y="78" width="6" height="12" fill="#ff0000"/>
<rect x="2456" y="110" width="6" height="20" fill="#ff0000"/>
<rect x="2468" y="130" width="6" height="28" fill="#00ff00"/>
<rect x="2480" y="110" width="6" height="26" fill="#00ff00"/>
<rect x="2492" y="128" width="6" height="20" fill="#ff0000"/>
<rect x="2516" y="110" width="6" height="94" fill="#ff0000"/>
<rect x="2528" y="208" width="6" height="2" fill="#ff0000"/>
<rect x="2540" y="162" width="6" height="32" fill="#00ff00"/>
<rect x="2552" y="142" width="6" height="20" fill="#00ff00"/>
<rect x="2564" y="120" width="6" height="10" fill="#00ff00"/>
</g>
<path d="M66 209 H2567" stroke="#2a27b4" stroke-opacity="0.62" stroke-width="2" fill="none"/>
<path d="M66 600.7 L72 601 L80.5 602.7 L347 602.7 L359 604.9 L432 604.9 L442.6 606.9 L515.6 606.9 L527.6 608.9 L573.7 608.9 L587.4 611 L609.6 611 L623.2 612.7 L657.4 612.7 L671 614.9 L707 614.9 L718.9 616.6 L766.7 616.6 L778.7 618.8 L824.8 618.8 L838.4 620.9 L1078.9 620.9 L1090.8 618.8 L1211.8 618.8 L1224 616.9 L1295 617 L1307 614.8 L1355.8 614.8 L1366 612.8 L1426.8 612.8 L1439 610.7 L1487.6 610.7 L1499.8 608.7 L1546.4 608.7 L1558.6 606.7 L1583 606.7 L1595 604.7 L1630.6 604.5 L1642.7 602.4 L1667 602.4 L1679.2 600.6 L1714.2 600.8 L1726.6 599 L1762.1 599 L1774.5 596.9 L1799.4 596.9 L1811.8 594.7 L1834.8 594.7 L1847.3 592.4 L1859.7 592.4 L1872.1 590.7 L1882.8 590.7 L1895.2 588.5 L1907.6 588.5 L1920 586.6 L1930.7 586.6 L1955.5 582.7 L1967.9 582.7 L1980.3 580.5 L1991 580.5 L2003.4 578.8 L2015.8 578.8 L2040.7 574.7 L2051.3 574.7 L2086.8 568.8 L2099.2 568.4 L2157.9 558.7 L2173.1 558.3 L2230.1 548.4 L2245.3 548.4 L2363.2 529 L2386 525.2 L2401.2 520.3 L2435.4 515 L2446.8 510.8 L2481 505.1 L2496.3 500.5 L2566.6 488.7" fill="none" stroke="#e3b23c" stroke-opacity="0.5" stroke-width="2" stroke-linejoin="round"/>
<path d="M66 610.4 L162.5 610.9 L189.8 610.9 L201.8 613 L316 613.3 L335 615 L381 615 L393 616.9 L478.5 616.9 L490.4 618.8 L537.8 618.8 L549.8 620.9 L561.7 621.2 L573.7 622.9 L587.4 622.9 L609.6 626.8 L623.2 628.9 L635.2 629.1 L647 630.8 L659 630.8 L683 634.9 L695 634.9 L707 636.8 L718.9 636.8 L730.8 638.8 L742.8 638.8 L766.7 642.6 L790.6 644.8 L814.5 644.8 L826.5 646.8 L838.4 646.8 L850.4 648.7 L886.3 649 L900 651.3 L917 651.3 L930 650.5 L965.5 646.6 L996 646.6 L1030 644.6 L1043 642.3 L1066.9 642.3 L1078.9 640.5 L1090.8 640.5 L1102.8 638.3 L1114.7 638.3 L1126.7 636.6 L1138.6 636.6 L1150.6 634.6 L1174.5 630.8 L1186.5 630.8 L1210.4 626.9 L1222.3 623 L1246.2 619.2 L1270.2 614.9 L1282.1 611 L1318 604.7 L1330 600.9 L1360 595.3 L1442.2 580 L1546.4 562.7 L1558.4 563.1 L1570.3 558.8 L1700 538 L1790 522.5 L1834.8 515.2 L1859.7 510.8 L1870.3 506.9 L1895.2 502.5 L1907.6 498.4 L1920 496.6 L1930.7 493.1 L1943.1 491.3 L1967.9 482.4 L1980.3 480.6 L1991 477.1 L2014 470 L2040 460.6 L2074.2 449.2 L2097 437.8 L2112.2 432.1 L2146.5 416.9 L2157.9 413.1 L2171.2 411.2 L2241.5 387.6 L2256.7 380 L2302.4 365.6 L2313.8 359.8 L2329 354.1 L2351.8 340.1 L2374.6 329.4 L2397.4 314.2 L2412.6 306.6 L2421.7 300 L2446.5 284 L2472.3 271.1 L2493.8 259.2 L2515.4 251.7 L2536.9 245.2 L2554.1 239.9 L2567 233.4" fill="none" stroke="#ff7a1a" stroke-opacity="0.7" stroke-width="2" stroke-linejoin="round"/>
<path d="M66 615 L136.9 614.3 L155.7 613 L165.9 610.9 L189.8 610.9 L201.8 609 L215.4 608.7 L226.5 606.6 L323 606.5 L335 608.7 L347 609 L360.6 611.8 L381 614.7 L393 617.2 L418.7 620.1 L430.7 622.9 L442.6 622.9 L454.6 624.9 L470 627.5 L478.5 629.7 L490.4 630.5 L502 632.8 L515.6 634.5 L537.8 636.8 L561.7 640.5 L587.4 640.9 L599.3 643.1 L609.6 645.6 L635.2 650.4 L647 650.4 L659 652.8 L671 654.5 L707 660.7 L730.8 664.8 L742.8 666.6 L754.8 668.7 L814.5 669 L826.5 667 L850.4 662.7 L862.4 659 L886.3 655 L900 652.5 L910.2 649 L922 646.5 L930 644.5 L947.3 640.5 L959.3 636.6 L971.2 634.6 L983.2 630.8 L995.2 628.9 L1031 623 L1043 618.9 L1066.9 614.6 L1078.9 614.6 L1102.8 610.7 L1114.7 606.7 L1138.6 602.6 L1186.5 594.8 L1198.4 594.8 L1246.2 586.7 L1258.2 582.8 L1294 576.8 L1306 573.1 L1330 568.8 L1341.9 565 L1355 562.5 L1510.6 537.1 L1522.5 537.1 L1546.4 532.8 L1558.4 533.2 L1570.3 528.9 L1594.3 524.6 L1606.2 520.9 L1689.9 506.4 L1701.9 507.2 L1751.4 499.2 L1763.4 499.2 L1775.3 495.3 L1799.4 490.9 L1822.4 490.9 L1847.3 486.5 L1917.8 463.2 L1978.1 433.1 L2016.9 410.5 L2049.2 394.3 L2060 386.8 L2093.8 360 L2121.8 340.8 L2136.9 335.4 L2160.6 323.5 L2173.5 319.2 L2195.1 314.9 L2212.3 309.5 L2229.5 300.9 L2246.8 297.7 L2266.1 295.5 L2279.1 291.2 L2294.1 283.7 L2307.1 282.5 L2315 282.9 L2332.3 279.7 L2351.7 274.3 L2364.6 264.6 L2386.2 250.6 L2407.7 232.3 L2429.2 211.8 L2448.6 194.6 L2461.5 187.7 L2483.1 173.1 L2498.2 163.4 L2515.4 155.8 L2531.5 152.6 L2547.7 144 L2567 136.5" fill="none" stroke="#e652cc" stroke-opacity="0.52" stroke-width="2" stroke-linejoin="round"/>
<g clip-path="url(#plot)"><path d="M610.8 697.4 L2567 210.9" stroke="#1592dc" stroke-width="2" fill="none"/>
<path d="M2099 224.1 L2480 25.2" stroke="#a726cc" stroke-width="2" fill="none"/></g>
<circle cx="262" cy="726" r="19.5" fill="#fff" stroke="#fff" stroke-width="4"/>
<circle cx="262" cy="726" r="18" fill="#eaf1fd" stroke="#2f88e8" stroke-width="4"/>
<text x="262.3" y="734.2" text-anchor="middle" font-size="23.8" fill="#2a61c9" stroke="#2a61c9" stroke-width="0.4">D</text>
<circle cx="1102" cy="726" r="19.5" fill="#fff" stroke="#fff" stroke-width="4"/>
<circle cx="1102" cy="726" r="18" fill="#eaf1fd" stroke="#2f88e8" stroke-width="4"/>
<text x="1102.3" y="734.2" text-anchor="middle" font-size="23.8" fill="#2a61c9" stroke="#2a61c9" stroke-width="0.4">D</text>
<circle cx="1858" cy="726" r="19.5" fill="#fff" stroke="#fff" stroke-width="4"/>
<circle cx="1858" cy="726" r="18" fill="#eaf1fd" stroke="#2f88e8" stroke-width="4"/>
<text x="1858.3" y="734.2" text-anchor="middle" font-size="23.8" fill="#2a61c9" stroke="#2a61c9" stroke-width="0.4">D</text>
<path d="M802 742 H826 a4 4 0 0 0 4 -4 V712 L814 706.3 L798 712 V738 a4 4 0 0 0 4 4 Z" fill="#fff" stroke="#fff" stroke-width="7" stroke-linejoin="round"/>
<path d="M802 742 H826 a4 4 0 0 0 4 -4 V712 L814 706.3 L798 712 V738 a4 4 0 0 0 4 4 Z" fill="#e8f5e9" stroke="#08a54b" stroke-width="4" stroke-linejoin="round"/>
<text x="813.7" y="734" text-anchor="middle" font-size="24" fill="#17873b" stroke="#17873b" stroke-width="0.5" textLength="12.6" lengthAdjust="spacingAndGlyphs">E</text>
<path d="M1546 742 H1570 a4 4 0 0 0 4 -4 V712 L1558 706.3 L1542 712 V738 a4 4 0 0 0 4 4 Z" fill="#fff" stroke="#fff" stroke-width="7" stroke-linejoin="round"/>
<path d="M1546 742 H1570 a4 4 0 0 0 4 -4 V712 L1558 706.3 L1542 712 V738 a4 4 0 0 0 4 4 Z" fill="#e8f5e9" stroke="#08a54b" stroke-width="4" stroke-linejoin="round"/>
<text x="1557.7" y="734" text-anchor="middle" font-size="24" fill="#17873b" stroke="#17873b" stroke-width="0.5" textLength="12.6" lengthAdjust="spacingAndGlyphs">E</text>
<path d="M2326 742 H2350 a4 4 0 0 0 4 -4 V712 L2338 706.3 L2322 712 V738 a4 4 0 0 0 4 4 Z" fill="#fff" stroke="#fff" stroke-width="7" stroke-linejoin="round"/>
<path d="M2326 742 H2350 a4 4 0 0 0 4 -4 V712 L2338 706.3 L2322 712 V738 a4 4 0 0 0 4 4 Z" fill="#e8f5e9" stroke="#08a54b" stroke-width="4" stroke-linejoin="round"/>
<text x="2337.7" y="734" text-anchor="middle" font-size="24" fill="#17873b" stroke="#17873b" stroke-width="0.5" textLength="12.6" lengthAdjust="spacingAndGlyphs">E</text>
<g clip-path="url(#plot)"><path d="M46 710 H70 a4 4 0 0 1 4 4 V739.6 L58 746.4 L42 739.6 V714 a4 4 0 0 1 4 -4 Z" fill="#fff" stroke="#fff" stroke-width="7" stroke-linejoin="round"/>
<path d="M46 710 H70 a4 4 0 0 1 4 4 V739.6 L58 746.4 L42 739.6 V714 a4 4 0 0 1 4 -4 Z" fill="#ffebee" stroke="#f7454f" stroke-width="4" stroke-linejoin="round"/></g>
<rect x="16" y="26" width="660" height="37" fill="#fff" fill-opacity="0.8"/>
<rect x="16" y="63" width="181" height="110" fill="#fff" fill-opacity="0.8"/>
<text class="lg" x="21.8" y="50" fill="#9da1b4">Nov 26</text>
<text class="lg" x="120.4" y="50" fill="#9da1b4">O</text>
<text class="lg" x="140.2" y="50" fill="#05a34c">157.03</text>
<text class="lg" x="235.5" y="50" fill="#9da1b4">H</text>
<text class="lg" x="254.3" y="50" fill="#05a34c">161.31</text>
<text class="lg" x="349.2" y="50" fill="#9da1b4">L</text>
<text class="lg" x="363.6" y="50" fill="#05a34c">156.36</text>
<text class="lg" x="458.8" y="50" fill="#9da1b4">C</text>
<text class="lg" x="478" y="50" fill="#05a34c">160.38</text>
<text class="lg" x="574.8" y="50" fill="#9da1b4">Vol</text>
<text class="lg" x="606" y="50" fill="#05a34c">2.12M</text>
<text class="lg" x="21.9" y="85.8" fill="#f3a6e2">SMA 20</text>
<text class="lg" x="106.5" y="84.4" fill="#858aa2">·</text>
<text class="lg" x="121.7" y="85.8" fill="#f3a6e2">156.30</text>
<text class="lg" x="21.9" y="121.7" fill="#ff9c55">SMA 50</text>
<text class="lg" x="106.5" y="120.3" fill="#858aa2">·</text>
<text class="lg" x="121.7" y="121.7" fill="#ff9c55">134.63</text>
<text class="lg" x="21.9" y="157.7" fill="#f1d9a1">SMA 200</text>
<text class="lg" x="118.8" y="156.3" fill="#858aa2">·</text>
<text class="lg" x="134.8" y="157.7" fill="#f1d9a1">77.19</text>
<text class="ax" x="2587.4" y="36.3" fill="#868686">180</text>
<text class="ax" x="2587.4" y="214.3" fill="#868686">140</text>
<text class="ax" x="2587.4" y="302.3" fill="#868686">120</text>
<text class="ax" x="2587.4" y="392.3" fill="#868686">100</text>
<text class="ax" x="2587.4" y="480.3" fill="#868686">80</text>
<text class="ax" x="2587.4" y="570.3" fill="#868686">60</text>
<text class="ax" x="2587.4" y="658.3" fill="#868686">40</text>
<text class="ax" x="2587.4" y="748.3" fill="#868686">20</text>
<text class="ax" x="62" y="731.8" fill="#868686" text-anchor="end">5M</text>
<text class="ax" x="62" y="707.8" fill="#868686" text-anchor="end">10M</text>
<text class="ax" x="62" y="683.8" fill="#868686" text-anchor="end">15M</text>
<text class="ax" x="62" y="659.8" fill="#868686" text-anchor="end">20M</text>
<text class="ax" x="62" y="635.8" fill="#868686" text-anchor="end">25M</text>
<text class="ax" x="94.2" y="786" fill="#868686" text-anchor="middle">Feb</text>
<text class="ax" x="322.2" y="786" fill="#868686" text-anchor="middle">Mar</text>
<text class="ax" x="574.2" y="786" fill="#868686" text-anchor="middle">Apr</text>
<text class="ax" x="826.2" y="786" fill="#868686" text-anchor="middle">May</text>
<text class="ax" x="1078.2" y="786" fill="#868686" text-anchor="middle">Jun</text>
<text class="ax" x="1318.2" y="786" fill="#868686" text-anchor="middle">Jul</text>
<text class="ax" x="1582.2" y="786" fill="#868686" text-anchor="middle">Aug</text>
<text class="ax" x="1834.2" y="786" fill="#868686" text-anchor="middle">Sep</text>
<text class="ax" x="2086.2" y="786" fill="#868686" text-anchor="middle">Oct</text>
<text class="ax" x="2362.2" y="786" fill="#868686" text-anchor="middle">Nov</text>
<rect x="2584" y="104" width="72" height="24" fill="#fff000"/>
<text x="2588.2" y="124" font-size="21.2" font-weight="bold" fill="#181d33">160.38</text>
</svg></body></html>
